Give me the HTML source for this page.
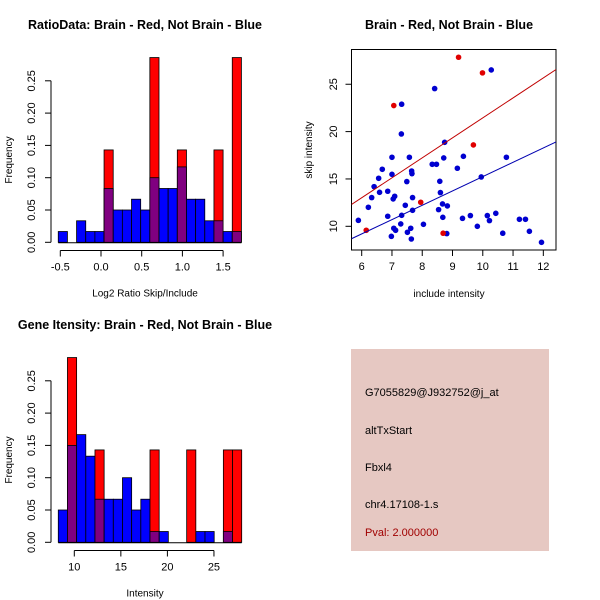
<!DOCTYPE html>
<html><head><meta charset="utf-8"><style>
body{margin:0;background:#fff}
svg{display:block;font-family:"Liberation Sans",sans-serif}
</style></head><body>
<svg id="s" width="600" height="600" xmlns="http://www.w3.org/2000/svg">
<rect x="0" y="0" width="600" height="600" fill="#fff"/>
<g>
<rect x="351" y="349" width="198" height="202" fill="#e6c8c2"/>
<text x="365" y="396" font-size="11" fill="#000">G7055829@J932752@j_at</text>
<text x="365" y="434" font-size="11" fill="#000">altTxStart</text>
<text x="365" y="471" font-size="11" fill="#000">Fbxl4</text>
<text x="365" y="508" font-size="11" fill="#000">chr4.17108-1.s</text>
<text x="365" y="536" font-size="11" fill="#a00000">Pval: 2.000000</text>
</g>
</svg>
<script>
const ratioBrain=[0,0,0,0,0,0.143,0,0,0,0,0.286,0,0,0.143,0,0,0,0.143,0,0.286];
const ratioNotBrain=[0.0167,0,0.0333,0.0167,0.0167,0.0833,0.05,0.05,0.0667,0.05,0.1,0.0833,0.0833,0.1167,0.0667,0.0667,0.0333,0.0333,0.0167,0.0167];
const ratioStart=-0.525, ratioBinW=0.1125;
const ratioTicks=[-0.5,0,0.5,1,1.5];
const ratioTickLabels=["-0.5","0.0","0.5","1.0","1.5"];
const geneBrain=[0,0.286,0,0,0.143,0,0,0,0,0,0.143,0,0,0,0.143,0,0,0,0.143,0.143];
const geneNotBrain=[0.05,0.15,0.1667,0.1333,0.0667,0.0667,0.0667,0.1,0.05,0.0667,0.0167,0.0167,0,0,0,0.0167,0.0167,0,0.0167,0];
const geneStart=8.28, geneBinW=0.985;
const geneTicks=[10,15,20,25];
const freqTicks=[0,0.05,0.1,0.15,0.2,0.25];
const freqTickLabels=["0.00","0.05","0.10","0.15","0.20","0.25"];
const blueX=[5.89,6.22,6.33,6.41,6.56,6.59,6.68,6.86,6.86,6.98,7.0,7.0,7.04,7.06,7.09,7.12,7.29,7.32,7.31,7.32,7.44,7.49,7.51,7.575,7.62,7.64,7.65,7.66,7.68,7.68,8.04,8.33,8.41,8.47,8.54,8.58,8.6,8.67,8.68,8.71,8.74,8.81,8.83,9.16,9.33,9.36,9.59,9.82,9.95,10.15,10.22,10.28,10.43,10.66,10.78,11.21,11.41,11.54,11.94];
const blueY=[10.63,12.01,13.03,14.19,15.07,13.59,16.02,13.70,11.06,8.94,15.49,17.29,12.89,9.79,13.17,9.58,10.25,22.89,19.75,11.16,12.22,14.72,9.37,17.29,9.79,8.66,15.84,15.56,13.03,11.69,10.21,16.55,24.54,16.55,11.76,14.75,13.56,12.36,10.95,17.22,18.87,9.23,12.15,16.13,10.84,17.39,11.13,10.0,15.21,11.13,10.60,26.51,11.37,9.27,17.29,10.74,10.74,9.47,8.31];
const redX=[6.15,7.06,7.95,8.69,9.20,9.69,9.99];
const redY=[9.58,22.75,12.54,9.27,27.85,18.59,26.20];
const fitBrain=[0.35,2.11];
const fitNotBrain=[0.12,1.513];
const scX=[6,7,8,9,10,11,12];
const scY=[10,15,20,25];

const svg=document.getElementById('s');
const NS='http://www.w3.org/2000/svg';
function mk(tag,attrs,parent){const e=document.createElementNS(NS,tag);for(const k in attrs)e.setAttribute(k,attrs[k]);(parent||svg).appendChild(e);return e;}
function txt(x,y,s,attrs,parent){const e=mk('text',Object.assign({x:x,y:y,'font-size':11,'text-anchor':'middle'},attrs||{}),parent);e.textContent=s;return e;}

function hist(o){
  const g=mk('g',{});
  
  
  const xs=v=>o.x0+(v-o.d0)*o.kx;
  const ys=v=>o.base-v*o.ky;
  const t=txt(o.cx,o.ty,o.title,{'font-weight':'bold','font-size':12.5},g);
  
  
  for(let i=0;i<o.brain.length;i++){
    const xa=xs(o.start+i*o.bw), xb=xs(o.start+(i+1)*o.bw);
    if(o.brain[i]>0){
      const r=mk('rect',{x:xa,y:ys(o.brain[i]),width:xb-xa,height:o.brain[i]*o.ky,fill:'#ff0000',stroke:'#000','stroke-width':0.8},g);
      
      
    }
    if(o.nb[i]>0){
      const r=mk('rect',{x:xa,y:ys(o.nb[i]),width:xb-xa,height:o.nb[i]*o.ky,fill:o.brain[i]>0?'#800080':'#0000ff',stroke:'#000','stroke-width':0.8},g);
      
      
    }
  }
  mk('line',{x1:xs(o.start),x2:xs(o.start+o.brain.length*o.bw),y1:o.base+0.5,y2:o.base+0.5,stroke:'#000'},g);
  mk('line',{x1:51,x2:51,y1:ys(0),y2:ys(0.25),stroke:'#000'},g);
  freqTicks.forEach((v,i)=>{
    mk('line',{x1:45,x2:51,y1:ys(v),y2:ys(v),stroke:'#000'},g);
    const l=txt(0,0,freqTickLabels[i],{transform:`translate(35,${ys(v)}) rotate(-90)`},g);
    
    
  });
  const yl=txt(0,0,'Frequency',{transform:`translate(12,${o.ymid}) rotate(-90)`,'font-size':10},g);
  
  
  mk('line',{x1:xs(o.ticks[0]),x2:xs(o.ticks[o.ticks.length-1]),y1:o.axY,y2:o.axY,stroke:'#000'},g);
  o.ticks.forEach((v,i)=>{
    mk('line',{x1:xs(v),x2:xs(v),y1:o.axY,y2:o.axY+6,stroke:'#000'},g);
    const l=txt(xs(v),o.axY+20,o.labels[i],{},g);
    
    
  });
  const xl=txt(o.cx,o.axY+46,o.xlab,{'font-size':10},g);
  
  
}
hist({name:'ratio-histogram',title:'RatioData: Brain - Red, Not Brain - Blue',cx:145,ty:29,ymid:160,
  x0:101,d0:0,kx:81.4,base:242.3,ky:646,brain:ratioBrain,nb:ratioNotBrain,start:ratioStart,bw:ratioBinW,
  ticks:ratioTicks,labels:ratioTickLabels,axY:250.5,xlab:'Log2 Ratio Skip/Include'});
hist({name:'gene-intensity-histogram',title:'Gene Itensity: Brain - Red, Not Brain - Blue',cx:145,ty:329,ymid:460,
  x0:74.3,d0:10,kx:9.31,base:542.3,ky:646,brain:geneBrain,nb:geneNotBrain,start:geneStart,bw:geneBinW,
  ticks:geneTicks,labels:geneTicks.map(String),axY:550.5,xlab:'Intensity'});

const sg=mk('g',{});


const sx=v=>361.7+(v-6)*30.27, sy=v=>226.3-(v-10)*9.47;
const st=txt(449,29,'Brain - Red, Not Brain - Blue',{'font-weight':'bold','font-size':12.5},sg);


mk('rect',{x:351.5,y:49.5,width:204.5,height:200.5,fill:'none',stroke:'#000'},sg);
const clip=mk('clipPath',{id:'cp'},sg);mk('rect',{x:351.5,y:49.5,width:204.5,height:200.5},clip);
scX.forEach(v=>{mk('line',{x1:sx(v),x2:sx(v),y1:250,y2:256,stroke:'#000'},sg);
  const l=txt(sx(v),270,String(v),{},sg);});
scY.forEach(v=>{mk('line',{x1:345.5,x2:351.5,y1:sy(v),y2:sy(v),stroke:'#000'},sg);
  const l=txt(0,0,String(v),{transform:`translate(337,${sy(v)}) rotate(-90)`},sg);});
const sxl=txt(449,297,'include intensity',{'font-size':10},sg);
const syl=txt(0,0,'skip intensity',{transform:'translate(312,150) rotate(-90)','font-size':10},sg);
blueX.forEach((v,i)=>{const c=mk('circle',{cx:sx(v),cy:sy(blueY[i]),r:2.8,fill:'#0000d0'},sg);
  });
redX.forEach((v,i)=>{const c=mk('circle',{cx:sx(v),cy:sy(redY[i]),r:2.8,fill:'#e00000'},sg);
  });
const xa=5.67,xb=12.42;
const lr=mk('line',{x1:sx(xa),y1:sy(fitBrain[0]+fitBrain[1]*xa),x2:sx(xb),y2:sy(fitBrain[0]+fitBrain[1]*xb),stroke:'#c00000','clip-path':'url(#cp)'},sg);

const lb=mk('line',{x1:sx(xa),y1:sy(fitNotBrain[0]+fitNotBrain[1]*xa),x2:sx(xb),y2:sy(fitNotBrain[0]+fitNotBrain[1]*xb),stroke:'#0000b0','clip-path':'url(#cp)'},sg);

</script>
</body></html>
